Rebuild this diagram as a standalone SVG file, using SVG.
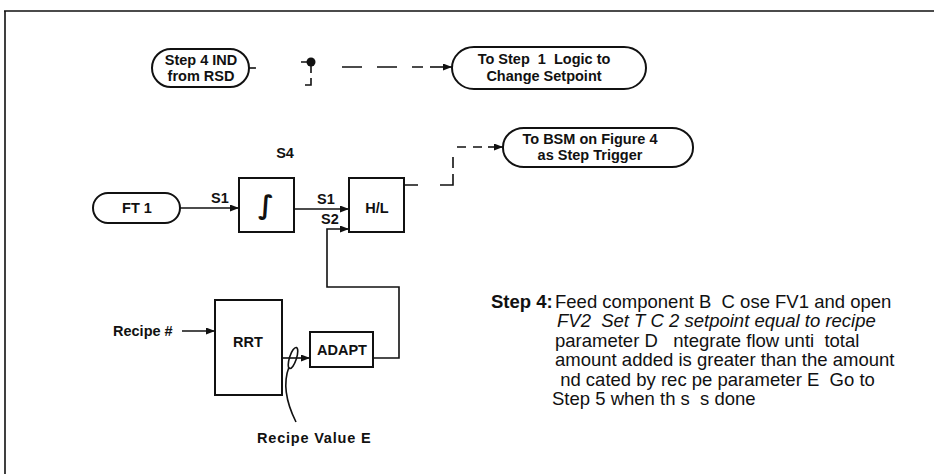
<svg xmlns="http://www.w3.org/2000/svg" width="934" height="474" viewBox="0 0 934 474">
<defs>
<marker id="arr" markerWidth="9" markerHeight="7" refX="9" refY="3.5" orient="auto" markerUnits="userSpaceOnUse"><path d="M0,0 L9,3.5 L0,7 z" fill="#111"/></marker>
</defs>
<style>
.ln{stroke:#111;stroke-width:1.6;fill:none}
.box{stroke:#111;stroke-width:2;fill:#fff}
.lbl{font-family:"Liberation Sans",Arial,sans-serif;font-weight:bold;font-size:14.5px;fill:#111;white-space:pre}
.mid{text-anchor:middle}
.para{font-family:"Liberation Sans",Arial,sans-serif;font-size:18.5px;fill:#111;white-space:pre}
</style>
<rect width="934" height="474" fill="#fff"/>
<g id="frame"><path class="ln" d="M4,11 H934 M5,11 V474"/></g>

<g id="step4ind"><rect class="box" x="152" y="49" width="97" height="38" rx="19" ry="19"/><text class="lbl mid" x="201" y="65">Step 4 IND</text><text class="lbl mid" x="201" y="81">from RSD</text></g>
<g id="step1logic"><rect class="box" x="452" y="47" width="194" height="42" rx="22" ry="21"/><text class="lbl mid" x="544" y="64">To Step  1  Logic to</text><text class="lbl mid" x="544" y="81">Change Setpoint</text></g>
<g id="ft1"><rect class="box" x="93" y="193" width="87" height="30" rx="15" ry="15"/><text class="lbl mid" x="137" y="213">FT 1</text></g>
<g id="integrator"><text class="lbl mid" x="285" y="158">S4</text><rect class="box" x="239" y="178" width="55" height="54"/><text x="266" y="214" text-anchor="middle" font-family="DejaVu Sans,sans-serif" font-weight="bold" font-size="26" fill="#111">∫</text></g>
<g id="hl"><rect class="box" x="349" y="178" width="55" height="54"/><text class="lbl mid" x="377" y="213">H/L</text></g>
<g id="bsm"><rect class="box" x="503" y="128" width="190" height="39" rx="21" ry="19"/><text class="lbl mid" x="590" y="144">To BSM on Figure 4</text><text class="lbl mid" x="590" y="160">as Step Trigger</text></g>
<g id="rrt"><rect class="box" x="215" y="300" width="67" height="95"/><text class="lbl mid" x="248" y="347">RRT</text></g>
<g id="adapt"><rect class="box" x="310" y="332" width="63" height="35"/><text class="lbl mid" x="342" y="355">ADAPT</text></g>
<g id="recipe-in"><text class="lbl" x="113" y="336">Recipe #</text></g>
<g id="recipe-value"><text class="lbl" x="257" y="443" letter-spacing="0.8">Recipe Value E</text></g>

<g id="connectors">
<path class="ln" d="M249,68 H256"/>
<path class="ln" d="M301,62 H311 V73 M311,78 V85 H305"/>
<circle cx="311" cy="62" r="4.5" fill="#111"/>
<path class="ln" d="M342,67 H362 M377,67 H397 M412,67 H423"/>
<path class="ln" d="M430,67 H452" marker-end="url(#arr)"/>
<path class="ln" d="M180,208 H239" marker-end="url(#arr)"/>
<text class="lbl" x="211" y="203">S1</text>
<path class="ln" d="M294,209 H349" marker-end="url(#arr)"/>
<text class="lbl" x="317" y="204">S1</text>
<text class="lbl" x="321" y="224">S2</text>
<path class="ln" d="M373,358 H399 V287 H327 V229 H349" marker-end="url(#arr)"/>
<path class="ln" d="M182,331 H215" marker-end="url(#arr)"/>
<path class="ln" d="M282,358 H310" marker-end="url(#arr)"/>
<ellipse class="ln" cx="293" cy="358" rx="3.5" ry="11" transform="rotate(18 293 358)"/>
<path class="ln" d="M289,367 C284,380 284,398 296,422"/>
<path class="ln" d="M404,185 H418 M440,185 H453 V174 M453,168 V157"/>
<path class="ln" d="M457,147 H466 M473,147 H482"/>
<path class="ln" d="M488,147 H503" marker-end="url(#arr)"/>
</g>

<g id="step4text">
<text class="para" x="491" y="308"><tspan font-weight="bold">Step 4:</tspan></text>
<text class="para" x="555" y="308">Feed component B  C ose FV1 and open</text>
<text class="para" x="557" y="327" font-style="italic">FV2  Set T C 2 setpoint equal to recipe</text>
<text class="para" x="555" y="347">parameter D   ntegrate flow unti  total</text>
<text class="para" x="555" y="366">amount added is greater than the amount</text>
<text class="para" x="555" y="386"> nd cated by rec pe parameter E  Go to</text>
<text class="para" x="552" y="405">Step 5 when th s  s done</text>
</g>
</svg>
